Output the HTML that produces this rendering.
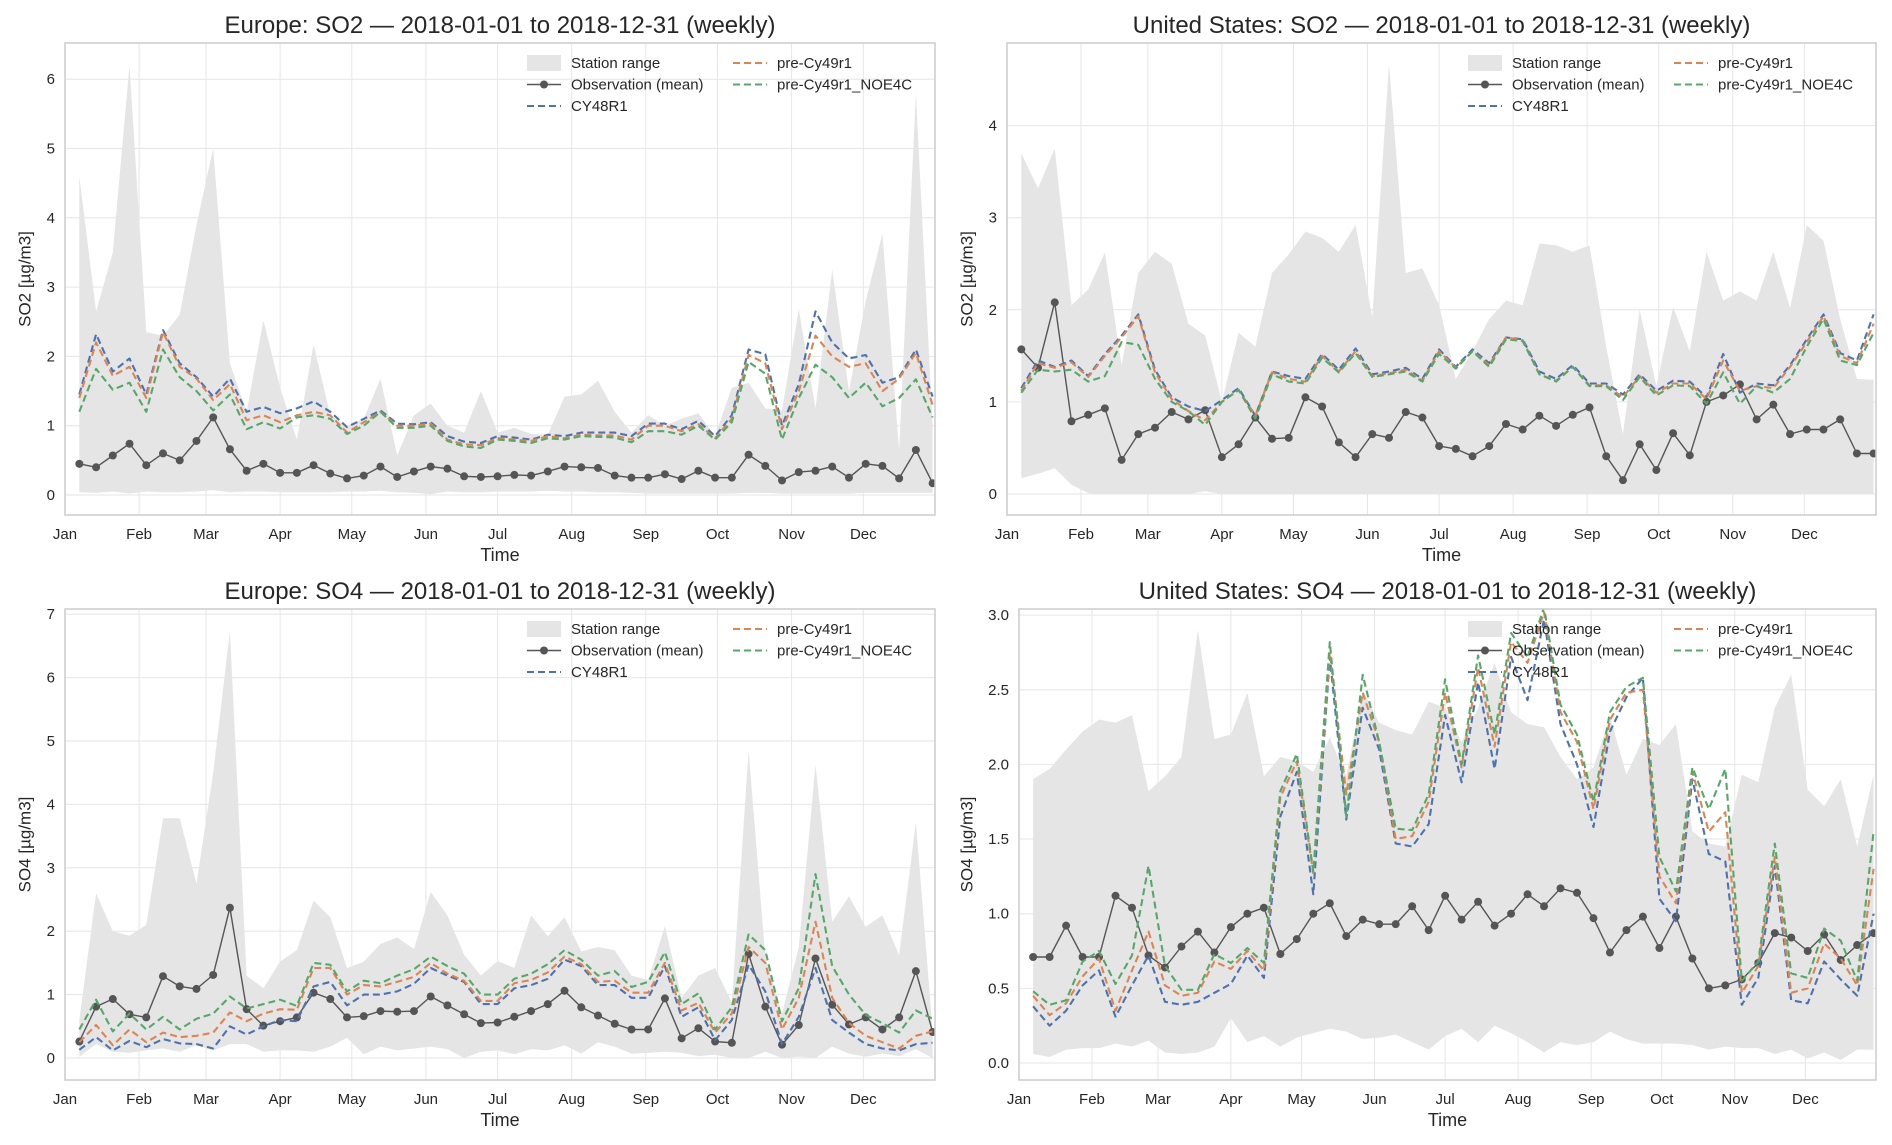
<!DOCTYPE html>
<html><head><meta charset="utf-8"><style>
html,body{margin:0;padding:0;background:#fff;}
svg{display:block;font-family:"Liberation Sans",sans-serif;}
</style></head><body>
<svg id="chart" width="1892" height="1145" viewBox="0 0 1892 1145" xmlns="http://www.w3.org/2000/svg"></svg>
<script>
const monthLabels = ["Jan","Feb","Mar","Apr","May","Jun","Jul","Aug","Sep","Oct","Nov","Dec"];
const monthStartDays = [0,31,59,90,120,151,181,212,243,273,304,334];

const euSo2Obs = [0.45,0.40,0.57,0.74,0.43,0.60,0.50,0.78,1.12,0.66,0.35,0.45,0.32,0.32,0.43,0.31,0.24,0.28,0.41,0.26,0.34,0.41,0.38,0.27,0.26,0.27,0.29,0.28,0.34,0.41,0.40,0.39,0.28,0.25,0.25,0.30,0.23,0.35,0.25,0.25,0.58,0.42,0.21,0.33,0.35,0.41,0.25,0.45,0.42,0.24,0.65,0.17];
const euSo2Cy48 = [1.45,2.32,1.78,1.97,1.45,2.38,1.9,1.7,1.42,1.68,1.2,1.27,1.18,1.25,1.35,1.2,0.98,1.1,1.22,1.03,1.02,1.05,0.85,0.77,0.75,0.85,0.83,0.8,0.87,0.85,0.9,0.9,0.9,0.85,1.03,1.03,0.95,1.07,0.85,1.15,2.1,2.03,1.0,1.6,2.65,2.2,1.97,2.02,1.62,1.7,2.1,1.42];
const euSo2Pre = [1.4,2.2,1.72,1.85,1.4,2.35,1.85,1.68,1.37,1.6,1.08,1.15,1.05,1.15,1.2,1.15,0.9,1.05,1.2,1.0,1.0,1.03,0.8,0.73,0.72,0.82,0.8,0.78,0.85,0.82,0.87,0.86,0.86,0.8,1.0,1.0,0.92,1.02,0.82,1.1,2.02,1.9,0.95,1.5,2.3,2.0,1.85,1.9,1.5,1.68,2.05,1.3];
const euSo2Noe = [1.2,1.82,1.52,1.62,1.2,2.1,1.7,1.5,1.22,1.45,0.95,1.05,0.96,1.12,1.15,1.1,0.88,1.0,1.2,0.97,0.97,1.0,0.78,0.7,0.68,0.8,0.78,0.75,0.82,0.8,0.85,0.84,0.83,0.76,0.92,0.92,0.87,1.0,0.8,1.05,1.92,1.75,0.8,1.4,1.88,1.7,1.4,1.62,1.28,1.4,1.67,1.12];
const euSo2Max = [4.6,2.65,3.5,6.2,2.35,2.3,2.6,3.9,5.0,1.9,1.2,2.52,1.55,0.8,2.17,1.15,1.0,1.1,1.68,0.57,1.15,1.32,1.0,0.9,1.5,0.9,0.97,0.88,0.87,1.42,1.45,1.65,1.2,0.9,1.15,1.0,1.1,1.18,0.85,1.55,1.62,1.25,1.22,2.68,1.25,3.25,1.5,2.8,3.77,0.65,5.8,1.0];
const euSo2Min = [0.04,0.03,0.05,0.02,0.05,0.04,0.04,0.05,0.07,0.04,0.05,0.05,0.04,0.04,0.04,0.04,0.05,0.05,0.06,0.04,0.03,0.01,0.05,0.04,0.04,0.05,0.05,0.05,0.06,0.05,0.05,0.04,0.04,0.03,0.02,0.02,0.02,0.02,0.02,0.02,0.03,0.03,0.02,0.02,0.02,0.02,0.02,0.03,0.03,0.03,0.03,0.03];

const usSo2Obs = [1.57,1.37,2.08,0.79,0.86,0.93,0.37,0.65,0.72,0.89,0.81,0.91,0.40,0.54,0.83,0.60,0.61,1.05,0.95,0.56,0.40,0.65,0.61,0.89,0.83,0.52,0.49,0.41,0.52,0.76,0.70,0.85,0.74,0.86,0.94,0.41,0.15,0.54,0.26,0.66,0.42,1.0,1.07,1.19,0.81,0.97,0.65,0.70,0.70,0.81,0.44,0.44];
const usSo2Cy48 = [1.15,1.45,1.38,1.45,1.28,1.52,1.72,1.95,1.35,1.05,0.95,0.9,1.02,1.15,0.85,1.33,1.28,1.25,1.52,1.35,1.58,1.3,1.33,1.37,1.25,1.57,1.38,1.57,1.42,1.7,1.68,1.33,1.25,1.4,1.2,1.2,1.08,1.3,1.12,1.23,1.22,1.05,1.52,1.1,1.2,1.18,1.4,1.68,1.95,1.53,1.45,1.95];
const usSo2Pre = [1.12,1.42,1.37,1.43,1.27,1.5,1.7,1.93,1.32,1.03,0.9,0.8,1.0,1.13,0.85,1.32,1.25,1.22,1.5,1.33,1.55,1.28,1.31,1.35,1.23,1.55,1.37,1.55,1.4,1.7,1.67,1.3,1.23,1.38,1.18,1.18,1.05,1.28,1.1,1.2,1.2,1.03,1.45,1.12,1.17,1.15,1.38,1.65,1.93,1.5,1.42,1.85];
const usSo2Noe = [1.1,1.35,1.33,1.35,1.22,1.28,1.65,1.62,1.25,1.0,0.9,0.75,1.0,1.13,0.82,1.3,1.22,1.2,1.48,1.32,1.53,1.27,1.3,1.33,1.22,1.52,1.36,1.55,1.38,1.68,1.66,1.3,1.22,1.38,1.17,1.17,1.02,1.27,1.07,1.18,1.17,0.98,1.32,0.98,1.17,1.1,1.25,1.6,1.9,1.45,1.4,1.75];
const usSo2Max = [3.7,3.32,3.75,2.05,2.22,2.62,1.4,2.4,2.63,2.5,1.85,1.72,1.0,1.75,1.6,2.4,2.6,2.85,2.78,2.63,2.92,1.92,4.67,2.4,2.45,2.05,1.25,1.55,1.9,2.1,2.05,2.72,2.7,2.63,2.7,1.6,0.65,2.0,1.17,2.03,1.55,2.63,2.1,2.2,2.1,2.63,2.02,2.92,2.75,1.9,1.25,1.24];
const usSo2Min = [0.17,0.22,0.28,0.1,0.01,0,0,0,0,0,0,0.03,0,0,0,0,0,0,0,0,0,0,0,0,0,0,0,0,0,0,0,0,0,0,0,0,0,0,0,0,0,0,0,0,0,0,0,0,0,0,0,0];

const euSo4Obs = [0.26,0.81,0.93,0.69,0.64,1.29,1.13,1.09,1.31,2.37,0.77,0.51,0.58,0.64,1.03,0.93,0.64,0.66,0.74,0.73,0.74,0.97,0.83,0.69,0.55,0.56,0.65,0.74,0.85,1.06,0.80,0.67,0.54,0.45,0.45,0.94,0.31,0.47,0.26,0.24,1.64,0.81,0.21,0.52,1.57,0.84,0.53,0.64,0.45,0.64,1.37,0.41];
const euSo4Cy48 = [0.13,0.33,0.12,0.27,0.17,0.3,0.23,0.22,0.15,0.5,0.37,0.5,0.6,0.58,1.13,1.2,0.83,1.0,1.0,1.05,1.17,1.42,1.3,1.2,0.85,0.85,1.1,1.15,1.25,1.55,1.45,1.15,1.15,0.95,0.95,1.45,0.65,0.8,0.28,0.6,1.47,1.05,0.22,0.65,1.42,0.6,0.4,0.22,0.15,0.12,0.22,0.24];
const euSo4Pre = [0.25,0.52,0.2,0.45,0.25,0.4,0.33,0.35,0.4,0.72,0.58,0.7,0.77,0.76,1.42,1.42,1.0,1.15,1.13,1.2,1.28,1.5,1.33,1.22,0.9,0.9,1.18,1.23,1.35,1.6,1.48,1.2,1.22,1.03,1.03,1.5,0.75,0.87,0.4,0.7,1.75,1.5,0.45,0.95,2.15,0.95,0.55,0.35,0.25,0.15,0.35,0.42];
const euSo4Noe = [0.45,0.92,0.42,0.7,0.45,0.65,0.45,0.62,0.7,0.97,0.78,0.85,0.92,0.82,1.5,1.47,1.05,1.22,1.18,1.3,1.4,1.6,1.45,1.33,1.0,1.0,1.25,1.33,1.48,1.7,1.55,1.3,1.37,1.12,1.2,1.67,0.85,1.02,0.45,0.8,1.95,1.7,0.58,1.1,2.9,1.45,1.0,0.68,0.55,0.4,0.75,0.62];
const euSo4Max = [0.6,2.6,2.0,1.93,2.1,3.78,3.78,2.75,4.5,6.73,1.3,1.1,1.52,1.7,2.48,2.22,1.42,1.52,1.8,1.9,1.72,2.62,2.25,1.63,1.3,1.53,1.42,2.25,1.92,2.22,1.68,1.75,1.7,1.3,1.23,2.08,0.95,1.3,1.42,0.88,4.85,1.6,0.7,1.75,4.62,2.15,2.55,2.07,2.25,1.62,3.72,0.45];
const euSo4Min = [0.02,0.22,0.1,0.08,0.12,0.15,0.1,0.2,0.12,0.22,0.22,0.1,0.12,0.12,0.1,0.18,0.32,0.06,0.18,0.12,0.15,0.18,0.14,0.0,0.1,0.12,0.06,0.14,0.12,0.2,0.07,0.25,0.18,0.07,0.08,0.1,0.08,0.03,0.05,0.0,0.0,0.1,0.0,0.02,0.0,0.18,0.07,0.02,0.07,0.03,0.14,0.0];

const usSo4Obs = [0.71,0.71,0.92,0.71,0.71,1.12,1.04,0.72,0.64,0.78,0.88,0.74,0.91,1.0,1.04,0.73,0.83,1.0,1.07,0.85,0.96,0.93,0.93,1.05,0.89,1.12,0.96,1.08,0.92,1.0,1.13,1.05,1.17,1.14,0.97,0.74,0.89,0.98,0.77,0.98,0.70,0.50,0.52,0.56,0.67,0.87,0.84,0.75,0.86,0.69,0.79,0.87];
const usSo4Cy48 = [0.38,0.25,0.35,0.52,0.62,0.31,0.52,0.72,0.41,0.39,0.41,0.47,0.53,0.72,0.57,1.65,1.95,1.13,2.72,1.63,2.38,2.1,1.47,1.45,1.6,2.33,1.88,2.55,1.97,2.72,2.43,2.97,2.27,2.0,1.58,2.22,2.45,2.58,1.1,0.95,1.9,1.4,1.35,0.39,0.57,1.32,0.42,0.4,0.68,0.56,0.45,1.0];
const usSo4Pre = [0.45,0.32,0.4,0.58,0.7,0.35,0.62,0.88,0.52,0.45,0.47,0.68,0.63,0.75,0.62,1.78,2.02,1.27,2.75,1.8,2.48,2.15,1.5,1.52,1.75,2.48,1.98,2.65,2.12,2.82,2.68,3.02,2.35,2.15,1.7,2.3,2.48,2.5,1.25,1.07,1.95,1.55,1.68,0.47,0.65,1.38,0.47,0.5,0.8,0.7,0.52,1.3];
const usSo4Noe = [0.48,0.39,0.42,0.68,0.75,0.53,0.72,1.32,0.65,0.49,0.49,0.73,0.67,0.77,0.67,1.82,2.07,1.28,2.82,1.65,2.6,2.15,1.57,1.56,1.8,2.57,2.0,2.73,2.2,2.88,2.72,3.05,2.4,2.2,1.75,2.35,2.52,2.58,1.38,1.15,1.98,1.7,1.97,0.55,0.68,1.47,0.6,0.57,0.9,0.82,0.55,1.55];
const usSo4Max = [1.9,1.97,2.1,2.22,2.3,2.28,2.33,1.82,1.92,2.05,2.9,2.17,2.2,2.48,1.92,2.05,2.02,1.95,2.18,1.92,2.5,2.28,2.23,2.2,2.42,2.38,2.15,2.38,2.68,2.35,2.27,2.25,2.05,1.9,1.98,2.32,1.93,2.17,2.13,2.27,1.55,1.47,1.45,1.93,1.88,2.38,2.6,1.83,1.72,1.9,1.45,1.93];
const usSo4Min = [0.06,0.04,0.09,0.1,0.1,0.13,0.11,0.15,0.07,0.06,0.07,0.11,0.3,0.14,0.18,0.11,0.17,0.2,0.23,0.21,0.16,0.17,0.19,0.14,0.09,0.18,0.23,0.14,0.25,0.2,0.14,0.07,0.14,0.12,0.14,0.21,0.16,0.13,0.13,0.13,0.12,0.09,0.11,0.1,0.1,0.06,0.09,0.03,0.07,0.02,0.09,0.09];

const ticksEuSo2 = ["0","1","2","3","4","5","6"];
const ticksUsSo2 = ["0","1","2","3","4"];
const ticksEuSo4 = ["0","1","2","3","4","5","6","7"];
const ticksUsSo4 = ["0.0","0.5","1.0","1.5","2.0","2.5","3.0"];

const NS = "http://www.w3.org/2000/svg";
const svg = document.getElementById("chart");
function mk(tag, attrs, parent){ const e=document.createElementNS(NS,tag); for(const k in attrs) e.setAttribute(k,attrs[k]); (parent||svg).appendChild(e); return e; }

const panels = [
 {id:"eu-so2", title:"Europe: SO2 — 2018-01-01 to 2018-12-31 (weekly)", ylab:"SO2 [µg/m3]", L:65,R:935,T:43,B:515,y0:495,unit:69.3, ticks:ticksEuSo2, obs:euSo2Obs, cy:euSo2Cy48, pre:euSo2Pre, noe:euSo2Noe, mx:euSo2Max, mn:euSo2Min, ylx:26},
 {id:"us-so2", title:"United States: SO2 — 2018-01-01 to 2018-12-31 (weekly)", ylab:"SO2 [µg/m3]", L:1007,R:1876,T:43,B:515,y0:494,unit:92.1, ticks:ticksUsSo2, obs:usSo2Obs, cy:usSo2Cy48, pre:usSo2Pre, noe:usSo2Noe, mx:usSo2Max, mn:usSo2Min, ylx:968},
 {id:"eu-so4", title:"Europe: SO4 — 2018-01-01 to 2018-12-31 (weekly)", ylab:"SO4 [µg/m3]", L:65,R:935,T:609,B:1080,y0:1058,unit:63.4, ticks:ticksEuSo4, obs:euSo4Obs, cy:euSo4Cy48, pre:euSo4Pre, noe:euSo4Noe, mx:euSo4Max, mn:euSo4Min, ylx:26},
 {id:"us-so4", title:"United States: SO4 — 2018-01-01 to 2018-12-31 (weekly)", ylab:"SO4 [µg/m3]", L:1019,R:1876,T:609,B:1080,y0:1063,unit:149.3, ticks:ticksUsSo4, obs:usSo4Obs, cy:usSo4Cy48, pre:usSo4Pre, noe:usSo4Noe, mx:usSo4Max, mn:usSo4Min, ylx:968}
];

panels.forEach((p,pi)=>{
  const g = mk("g",{});
  
  
  const xs = d => p.L + d/364*(p.R-p.L);
  const ys = v => p.y0 - v*p.unit;
  const xw = i => xs(6+7*i);
  const cid = "clip"+pi;
  const cp = mk("clipPath",{id:cid},g); mk("rect",{x:p.L,y:p.T,width:p.R-p.L,height:p.B-p.T},cp);
  mk("rect",{x:p.L,y:p.T,width:p.R-p.L,height:p.B-p.T,fill:"#fff"},g);
  monthStartDays.forEach((d,i)=>{
    const x=xs(d);
    const gl=mk("line",{x1:x,x2:x,y1:p.T,y2:p.B,stroke:"#e6e6e6","stroke-width":1},g);
    
    
    const t=mk("text",{x:x,y:p.B+24,"font-size":15,fill:"#262626","text-anchor":"middle"},g);
    t.textContent=monthLabels[i];
    
    
  });
  p.ticks.forEach(lbl=>{
    const v=parseFloat(lbl), y=ys(v);
    const gl=mk("line",{x1:p.L,x2:p.R,y1:y,y2:y,stroke:"#e6e6e6","stroke-width":1},g);
    
    
    const t=mk("text",{x:p.L-10,y:y+5,"font-size":15,fill:"#262626","text-anchor":"end"},g);
    t.textContent=lbl;
    
    
  });
  const pg = mk("g",{"clip-path":"url(#"+cid+")"},g);
  let d="";
  p.mx.forEach((v,i)=>{ d+=(i?"L":"M")+xw(i).toFixed(1)+","+ys(v).toFixed(1); });
  for(let i=p.mn.length-1;i>=0;i--) d+="L"+xw(i).toFixed(1)+","+ys(p.mn[i]).toFixed(1);
  const area=mk("path",{d:d+"Z",fill:"#e5e5e5"},pg);
  
  
  const line=(arr,color,dash,w)=>{
    let s=""; arr.forEach((v,i)=>{ s+=(i?"L":"M")+xw(i).toFixed(1)+","+ys(v).toFixed(1); });
    const a={d:s,fill:"none",stroke:color,"stroke-width":w,"stroke-linejoin":"round"};
    if(dash) a["stroke-dasharray"]=dash;
    return mk("path",a,pg);
  };
  const ol=line(p.obs,"#555",null,1.4);
  
  
  p.obs.forEach((v,i)=>{
    const c=mk("circle",{cx:xw(i),cy:ys(v),r:4,fill:"#555"},pg);
    
    
  });
  const l1=line(p.cy,"#4c72b0","7,4",2.1);
  
  
  const l2=line(p.pre,"#dd8452","7,4",2.1);
  
  
  const l3=line(p.noe,"#55a868","7,4",2.1);
  
  
  const fr=mk("rect",{x:p.L,y:p.T,width:p.R-p.L,height:p.B-p.T,fill:"none",stroke:"#cccccc","stroke-width":1.5},g);
  
  
  const tt=mk("text",{x:(p.L+p.R)/2,y:p.T-10,"font-size":24,fill:"#262626","text-anchor":"middle"},g);
  tt.textContent=p.title;
  
  
  const xl=mk("text",{x:(p.L+p.R)/2,y:p.B+46,"font-size":18,fill:"#262626","text-anchor":"middle"},g);
  xl.textContent="Time";
  
  
  const ym=(p.T+p.B)/2;
  const yl=mk("text",{x:p.ylx,y:ym,"font-size":17,fill:"#262626","text-anchor":"middle",transform:"rotate(-90 "+p.ylx+" "+ym+")","dominant-baseline":"middle"},g);
  yl.textContent=p.ylab;
  
  
  const lx=p.R-408, ly=p.T+20;
  const items=[
    {t:"Station range",c:"#e5e5e5",k:"patch",col:0,row:0},
    {t:"Observation (mean)",c:"#555",k:"obs",col:0,row:1},
    {t:"CY48R1",c:"#4c72b0",k:"dash",col:0,row:2},
    {t:"pre-Cy49r1",c:"#dd8452",k:"dash",col:1,row:0},
    {t:"pre-Cy49r1_NOE4C",c:"#55a868",k:"dash",col:1,row:1}
  ];
  items.forEach(it=>{
    const x0=lx+it.col*206, y=ly+it.row*21.5;
    const lg=mk("g",{},g);
    
    
    if(it.k==="patch") mk("rect",{x:x0,y:y-8,width:34,height:16,fill:it.c},lg);
    else if(it.k==="obs"){ mk("line",{x1:x0,x2:x0+34,y1:y,y2:y,stroke:it.c,"stroke-width":1.4},lg); mk("circle",{cx:x0+17,cy:y,r:4,fill:it.c},lg); }
    else mk("line",{x1:x0,x2:x0+34,y1:y,y2:y,stroke:it.c,"stroke-width":2.1,"stroke-dasharray":"7,4"},lg);
    const t=mk("text",{x:x0+44,y:y+5,"font-size":15,fill:"#262626"},lg);
    t.textContent=it.t;
  });
});
</script>
</body></html>
